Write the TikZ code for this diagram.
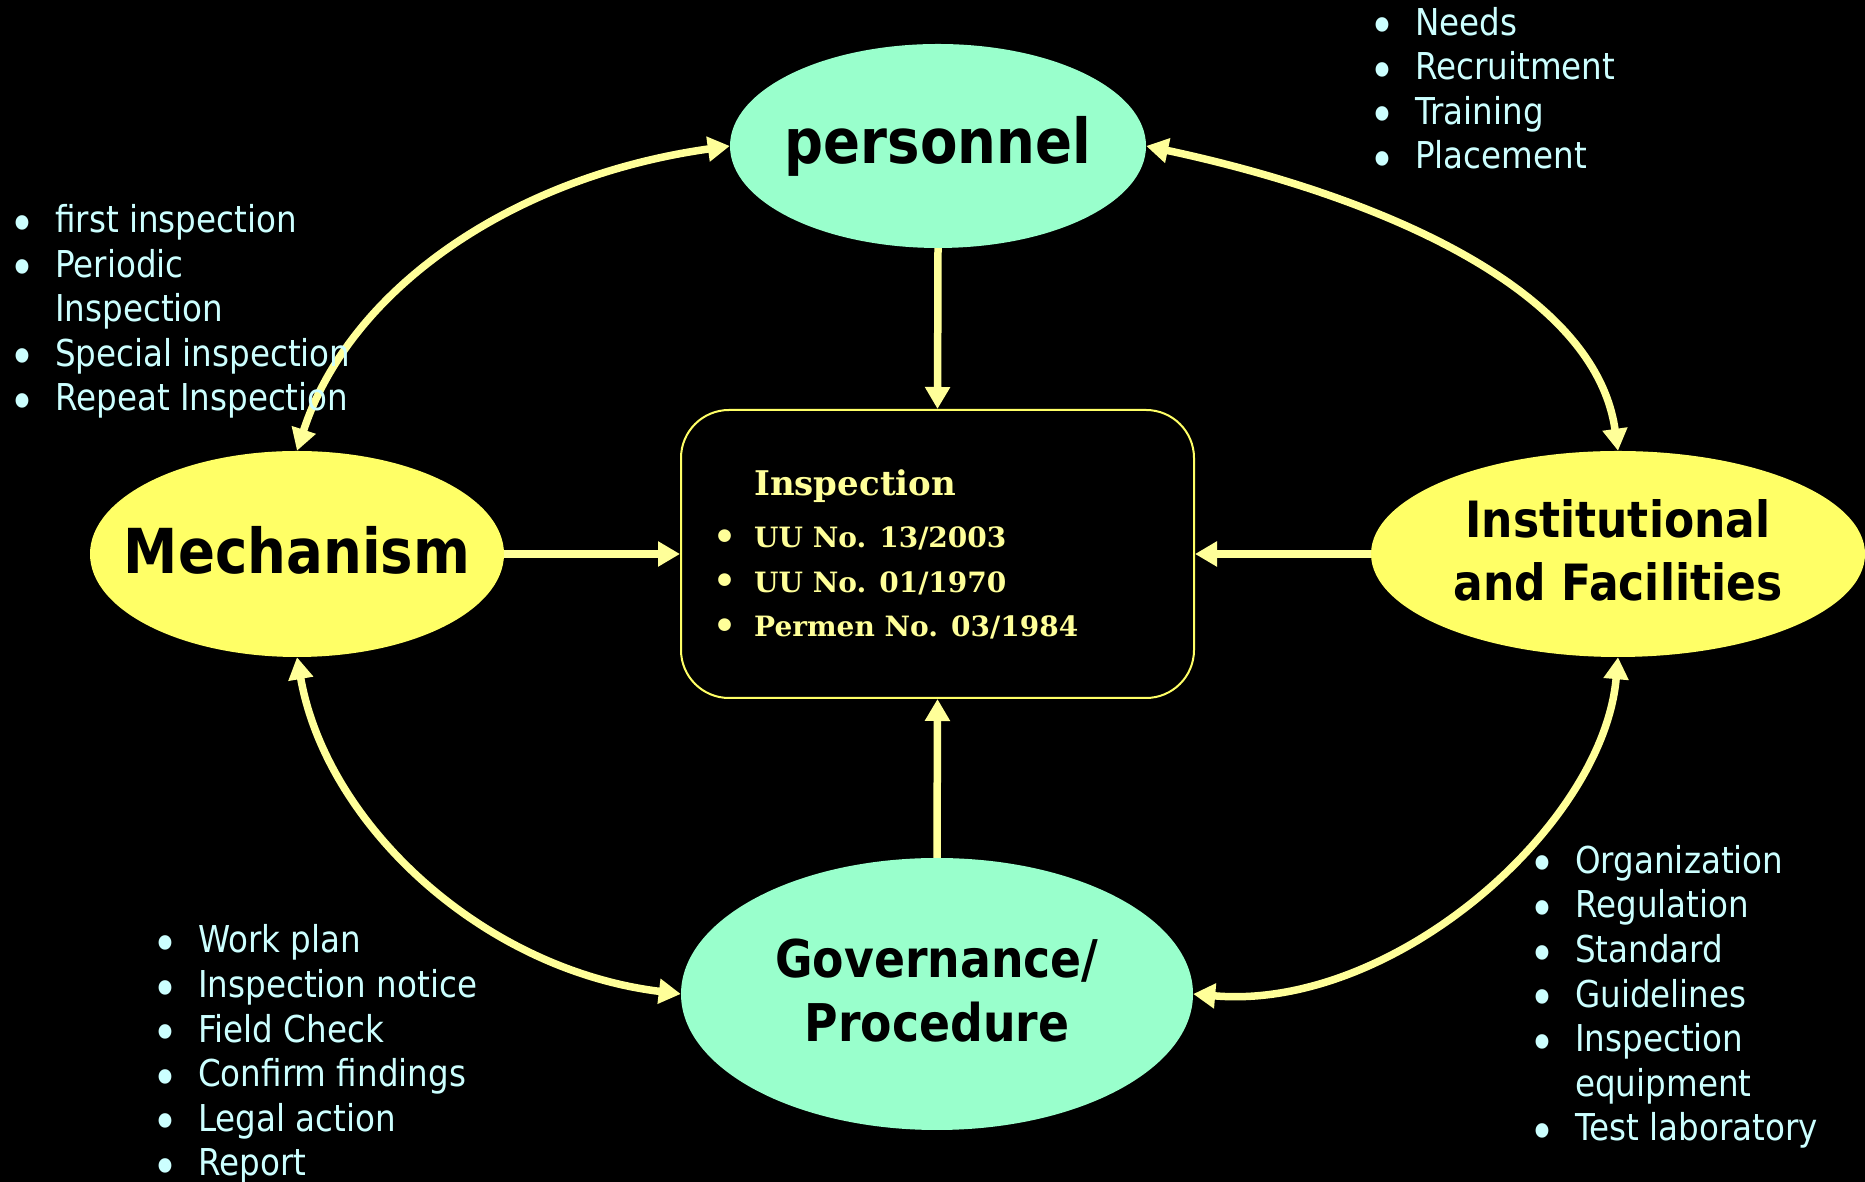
\documentclass[tikz,border=0pt]{standalone}
\usepackage{fontspec}
\setmainfont{DejaVu Sans}[FakeStretch=0.88]
\newfontfamily\lawfont{DejaVu Serif}
\usetikzlibrary{shapes.geometric,arrows.meta,positioning}
\definecolor{mint}{HTML}{99FFCC}
\definecolor{lemon}{HTML}{FFFF66}
\definecolor{paleyellow}{HTML}{FFFF99}
\definecolor{icecyan}{HTML}{CCFFFF}
\newcommand{\bigdot}{\smash{\raisebox{-8.5pt}{\fontsize{50}{50}\selectfont\textbullet}}}
\newcommand{\bul}[1]{\makebox[46pt][l]{\bigdot}#1}
\newcommand{\cont}[1]{\hspace*{46pt}#1}
\newcommand{\lawbul}[1]{\makebox[41pt][l]{\smash{\raisebox{-1.5pt}{\fontsize{36}{36}\selectfont\textbullet}}}#1}
\begin{document}
\begin{tikzpicture}[x=1pt,y=1pt,
	topic/.style={ellipse,inner sep=0pt},
	topictext/.style={inner sep=0pt,align=center,font=\bfseries\fontsize{62}{74}\selectfont},
	facts/.style={anchor=base west,inner sep=0pt,align=left,text=icecyan,font=\fontsize{37}{44.6}\selectfont},
	link/.style={draw=paleyellow,line width=7.5pt,-{Triangle[width=24pt,length=22pt]}},
	both/.style={link,{Triangle[width=24pt,length=22pt]}-{Triangle[width=24pt,length=22pt]}}]
	\useasboundingbox (0,0) rectangle (1865,1182);
	\fill[black] (0,0) rectangle (1865,1182);

	% the four topics
	\node[topic,fill=mint,minimum width=416pt,minimum height=204pt] (staff) at (938,1036) {};
	\node[topictext] (staff-t) at (staff) {personnel};
	\node[topic,fill=lemon,minimum width=414pt,minimum height=206pt] (mech) at (297,628) {};
	\node[topictext] (mech-t) at ([yshift=4pt]mech) {Mechanism};
	\node[topic,fill=lemon,minimum width=494pt,minimum height=206pt] (inst) at (1618,628) {};
	\node[topictext,font=\bfseries\fontsize{50}{63}\selectfont] (inst-t) at ([yshift=4pt]inst) {Institutional\\and Facilities};
	\node[topic,fill=mint,minimum width=512pt,minimum height=272pt] (gov) at (937,188) {};
	\node[topictext,font=\bfseries\fontsize{52}{64}\selectfont] (gov-t) at ([yshift=3pt]gov) {Governance/\\Procedure};

	% centre box
	\node[draw=lemon,line width=2pt,rounded corners=48pt,minimum width=513pt,minimum height=288pt] (insp) at (937.5,628) {};
	\node[anchor=base west,inner sep=0pt,align=left,text=paleyellow,font=\lawfont\bfseries\fontsize{28}{44.5}\selectfont] (insp-t) at (713,545)
		{\hspace*{41pt}{\fontsize{34}{44.5}\selectfont Inspection}\\[8pt]\lawbul{UU No. 13/2003}\\\lawbul{UU No. 01/1970}\\\lawbul{Permen No. 03/1984}};

	% straight links
	\draw[link] (staff.south) -- (insp.north);
	\draw[link] (gov.north) -- (insp.south);
	\draw[link] (mech.east) -- (insp.west);
	\draw[link] (inst.west) -- (insp.east);

	% round links
	\draw[both] (mech.north) to[out=72,in=188,out distance=170pt,in distance=220pt] (staff.west);
	\draw[both] (staff.east) to[out=-12,in=98,out distance=220pt,in distance=170pt] (inst.north);
	\draw[both] (mech.south) to[out=-80,in=173,out distance=170pt,in distance=200pt] (gov.west);
	\draw[both] (inst.south) to[out=-95,in=-5,out distance=170pt,in distance=200pt] (gov.east);

	% lists
	\node[facts] (staff-l) at (1369,1013) {\bul{Needs}\\\bul{Recruitment}\\\bul{Training}\\\bul{Placement}};
	\node[facts] (mech-l) at (9,771) {\bul{first inspection}\\\bul{Periodic}\\\cont{Inspection}\\\bul{Special inspection}\\\bul{Repeat Inspection}};
	\node[facts] (gov-l) at (152,6) {\bul{Work plan}\\\bul{Inspection notice}\\\bul{Field Check}\\\bul{Confirm findings}\\\bul{Legal action}\\\bul{Report}};
	\node[facts] (inst-l) at (1529,41) {\bul{Organization}\\\bul{Regulation}\\\bul{Standard}\\\bul{Guidelines}\\\bul{Inspection}\\\cont{equipment}\\\bul{Test laboratory}};
\end{tikzpicture}
\end{document}
